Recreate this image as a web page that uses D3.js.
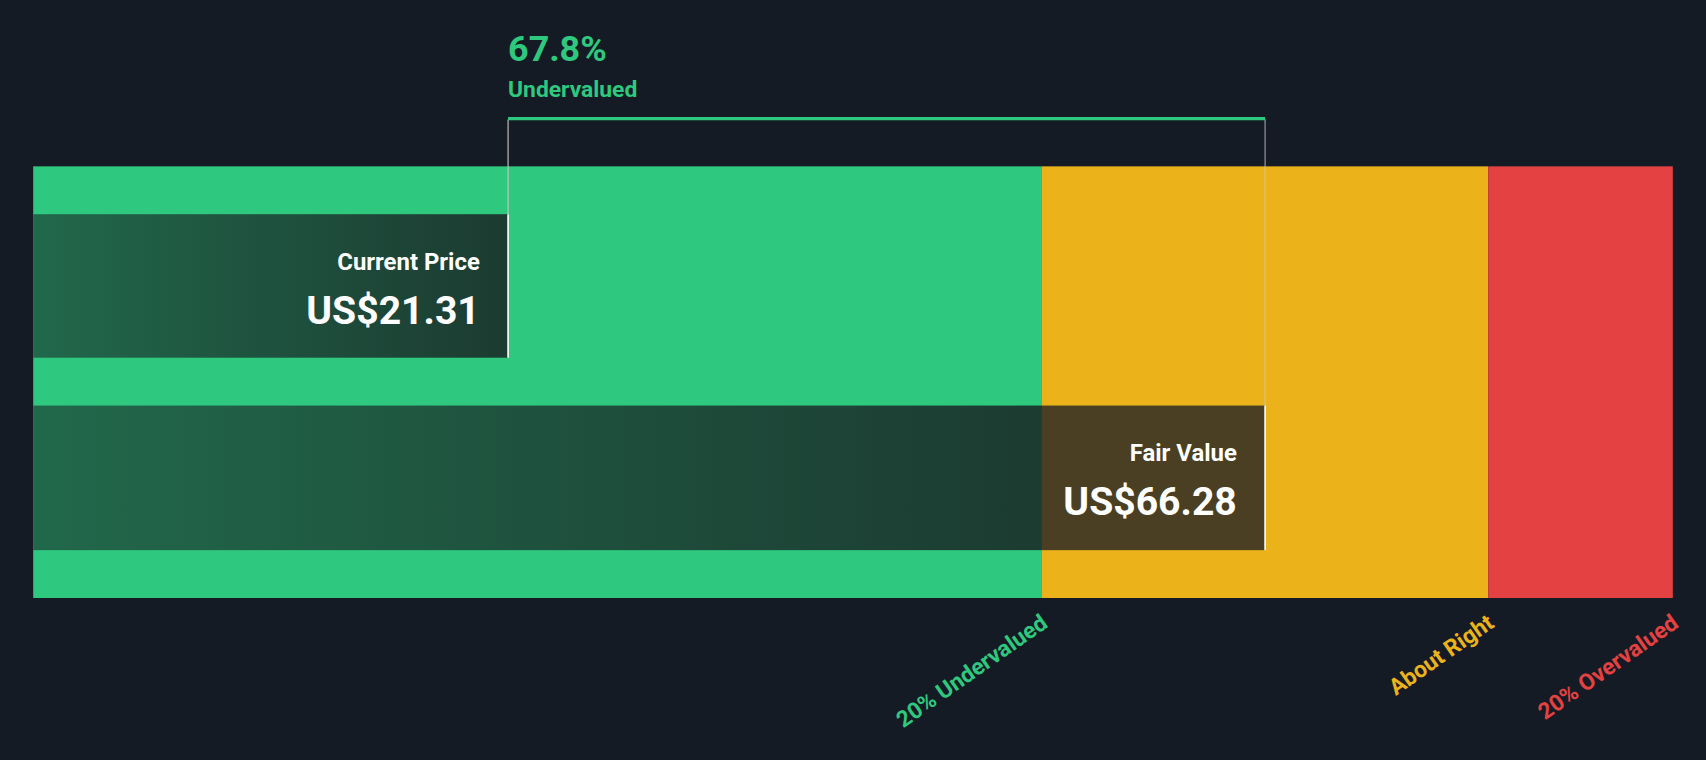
<!DOCTYPE html>
<html><head><meta charset="utf-8">
<script src="https://cdn.jsdelivr.net/npm/d3@7"></script>
<style>html,body{margin:0;background:#151b24;overflow:hidden}</style>
</head><body>
<svg id="chart"></svg>
<script>
// values
const currentPrice = 21.31;
const fairValue = 66.28;
const discountLabel = "67.8%";
const zones = [
  { name: "20% Undervalued", from: -6.9, to: fairValue * 0.8, color: "#2ec97f" },
  { name: "About Right", from: fairValue * 0.8, to: fairValue * 1.2, color: "#ecb21a" },
  { name: "20% Overvalued", from: fairValue * 1.2, to: 90.5, color: "#e44242" }
];
const bars = [
  { label: "Current Price", value: currentPrice, y0: 197, y1: 329 },
  { label: "Fair Value", value: fairValue, y0: 373, y1: 506 }
];

const W = 1568, H = 699;
const svg = d3.select("#chart").attr("width", 1706).attr("height", 760)
  .attr("viewBox", "0 0 " + W + " " + H);
const x = d3.scaleLinear().domain([-6.9, 90.5]).range([30, 1538]);
const bandTop = 153, bandBottom = 550;
const font = "Roboto, sans-serif";

const defs = svg.append("defs");
const grad = defs.append("linearGradient").attr("id", "g1");
grad.append("stop").attr("offset", "0%").attr("stop-color", "#21684b");
grad.append("stop").attr("offset", "100%").attr("stop-color", "#1c3b31");

svg.selectAll(".zone").data(zones).join("rect")
  .attr("x", d => x(d.from)).attr("width", d => x(d.to) - x(d.from))
  .attr("y", bandTop).attr("height", bandBottom - bandTop).attr("fill", d => d.color);

// bars: green part gradient, over-yellow part dark overlay
bars.forEach(b => {
  const greenEnd = Math.min(x(b.value), x(zones[0].to));
  svg.append("rect").attr("x", x(-6.9)).attr("width", greenEnd - x(-6.9))
    .attr("y", b.y0).attr("height", b.y1 - b.y0).attr("fill", "url(#g1)");
  if (x(b.value) > greenEnd) {
    svg.append("rect").attr("x", greenEnd).attr("width", x(b.value) - greenEnd)
      .attr("y", b.y0).attr("height", b.y1 - b.y0).attr("fill", "#4a3f22");
  }
  svg.append("line").attr("x1", x(b.value)).attr("x2", x(b.value))
    .attr("y1", b.y0).attr("y2", b.y1).attr("stroke", "#fff").attr("stroke-width", 1.5);
  svg.append("text").attr("x", x(b.value) - 26).attr("y", b.y0 + 51)
    .attr("text-anchor", "end").attr("font-family", font).attr("font-weight", 700)
    .attr("font-size", 22).attr("fill", "#fff").text(b.label);
  svg.append("text").attr("x", x(b.value) - 26).attr("y", b.y0 + 101)
    .attr("text-anchor", "end").attr("font-family", font).attr("font-weight", 700)
    .attr("font-size", 36).attr("fill", "#fff").text("US$" + b.value.toFixed(2));
});

// bracket
const xa = x(currentPrice), xb = x(fairValue);
svg.append("line").attr("x1", xa).attr("x2", xa).attr("y1", 110).attr("y2", bars[0].y0)
  .attr("stroke", "#c8c8c8").attr("stroke-width", 1);
svg.append("line").attr("x1", xb).attr("x2", xb).attr("y1", 110).attr("y2", bars[1].y0)
  .attr("stroke", "#c8c8c8").attr("stroke-width", 1).attr("opacity", 0.8);
svg.append("line").attr("x1", xa).attr("x2", xb).attr("y1", 109).attr("y2", 109)
  .attr("stroke", "#2ec97f").attr("stroke-width", 3);
svg.append("text").attr("x", xa).attr("y", 56).attr("font-family", font)
  .attr("font-weight", 700).attr("font-size", 33).attr("fill", "#2ec97f").text(discountLabel);
svg.append("text").attr("x", xa).attr("y", 89).attr("font-family", font)
  .attr("font-weight", 700).attr("font-size", 21).attr("fill", "#2ec97f").text("Undervalued");

// zone labels
svg.selectAll(".zl").data(zones).join("text")
  .attr("transform", d => "translate(" + (x(d.to) - 2) + "," + (bandBottom + 14) + ") rotate(-35)")
  .attr("text-anchor", "end").attr("font-family", font).attr("font-weight", 700)
  .attr("font-size", 21).attr("fill", d => d.color).attr("dy", "0.7em")
  .text(d => d.name);
</script>
</body></html>
